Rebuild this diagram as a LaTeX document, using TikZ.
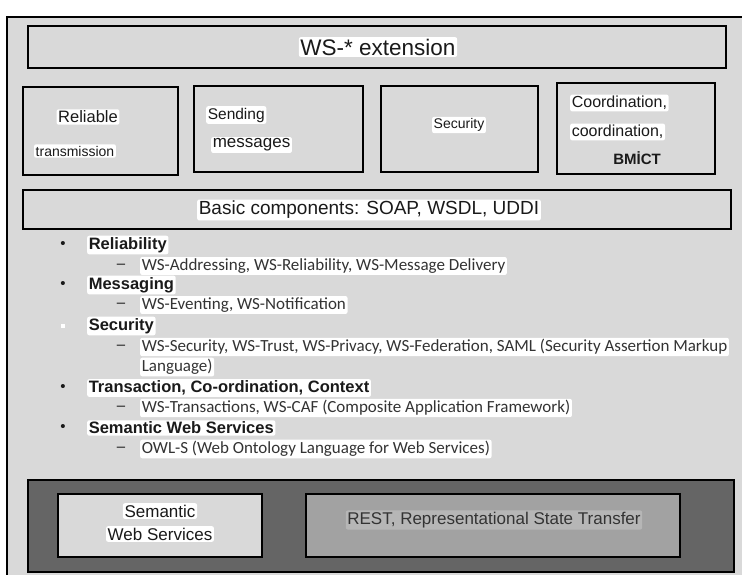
\documentclass[tikz,border=0pt]{standalone}
\usepackage{fontspec}
\setmainfont{Liberation Sans}
\newfontfamily\listfont{Carlito}
\usetikzlibrary{positioning}
\definecolor{panelgray}{HTML}{D9D9D9}
\definecolor{darkpanel}{HTML}{656565}
\definecolor{restgray}{HTML}{A2A2A2}
\definecolor{restlabel}{HTML}{B6B6B6}
\definecolor{inkgray}{HTML}{1A1A1A}

\tikzset{
  box/.style={draw=black, line width=2.3pt},
  hl/.style={fill=white, rounded corners=2pt, inner sep=1.6pt, text=inkgray},
  head/.style={hl, anchor=west, font=\fontsize{16.5}{19}\selectfont\bfseries},
  item/.style={hl, anchor=west, text=black!80, font=\listfont\fontsize{17}{20}\selectfont},
  bulletmark/.style={text=inkgray, font=\fontsize{15}{18}\selectfont}
}

\begin{document}
\begin{tikzpicture}[x=1pt, y=-1pt]
      \useasboundingbox (0,0) rectangle (742,574);
      % outer frame
      \fill[panelgray] (7,17) rectangle (760,590);
      \draw[line width=2pt] (7,590) -- (7,17) -- (760,17);

      % upper part
      \node[box, minimum width=698pt, minimum height=42pt] (wsext) at (377,47) {};
      \node[hl, font=\fontsize{22.5}{26}\selectfont] (wslabel) at (378,47) {WS-* extension};

      \node[box, minimum width=155pt, minimum height=88pt] (relbox) at (100.5,131) {};
      \node[hl, font=\fontsize{16.5}{19}\selectfont] (reliable) at (88,117) {Reliable};
      \node[hl, font=\fontsize{14}{17}\selectfont] (transm) at (75,151) {transmission};

      \node[box, minimum width=169pt, minimum height=86pt] (sendbox) at (278.5,129) {};
      \node[hl, anchor=west, font=\fontsize{15.5}{18}\selectfont] (sending) at (206,115) {Sending};
      \node[hl, anchor=west, font=\fontsize{17}{20}\selectfont] (messages) at (211,145) {messages};

      \node[box, minimum width=157pt, minimum height=86pt] (secbox) at (459.5,129) {};
      \node[hl, font=\fontsize{14}{17}\selectfont] (security) at (459,125) {Security};

      \node[box, minimum width=158pt, minimum height=91pt] (coordbox) at (636,128.5) {};
      \node[hl, anchor=west, font=\fontsize{16}{19}\selectfont] (coordA) at (570,103) {Coordination,};
      \node[hl, anchor=west, font=\fontsize{16}{19}\selectfont] (coordB) at (570,132) {coordination,};
      \node[text=inkgray, font=\fontsize{15}{18}\selectfont\bfseries] (bmict) at (637,158) {BMİCT};

      \node[box, minimum width=708pt, minimum height=39pt] (basic) at (377,209.5) {};
      \node[hl, font=\fontsize{19}{22}\selectfont] (basiclabel) at (369,210) {Basic components: SOAP, WSDL, UDDI};

      % list
      \node[bulletmark] (b1) at (63,245) {\textbullet};
      \node[head] (reliab) at (87,245) {Reliability};
      \node[bulletmark] (d1) at (121,266) {--};
      \node[item] (reliabitem) at (140,266) {WS-Addressing, WS-Reliability, WS-Message Delivery};

      \node[bulletmark] (b2) at (63,285) {\textbullet};
      \node[head] (messg) at (87,285) {Messaging};
      \node[bulletmark] (d2) at (121,305) {--};
      \node[item] (messgitem) at (140,305) {WS-Eventing, WS-Notification};

      \node[fill=white, minimum size=4pt, inner sep=0pt] (b3) at (63,326) {};
      \node[head] (secur) at (87,326) {Security};
      \node[bulletmark] (d3) at (121,347) {--};
      \node[item] (securitem) at (140,347) {WS-Security, WS-Trust, WS-Privacy, WS-Federation, SAML (Security Assertion Markup};
      \node[item] (securlang) at (140,367) {Language)};

      \node[bulletmark] (b4) at (63,388) {\textbullet};
      \node[head] (transact) at (87,388) {Transaction, Co-ordination, Context};
      \node[bulletmark] (d4) at (121,408) {--};
      \node[item] (transitem) at (140,408) {WS-Transactions, WS-CAF (Composite Application Framework)};

      \node[bulletmark] (b5) at (63,428) {\textbullet};
      \node[head] (semweb) at (87,428) {Semantic Web Services};
      \node[bulletmark] (d5) at (121,449) {--};
      \node[item] (semitem) at (140,449) {OWL-S (Web Ontology Language for Web Services)};

      % lower part
      \node[box, fill=darkpanel, minimum width=706pt, minimum height=92pt] (darkbox) at (381,526) {};
      \node[box, fill=panelgray, minimum width=204pt, minimum height=63pt] (sembox) at (160,525.5) {};
      \node[hl, font=\fontsize{17}{20}\selectfont] (semA) at (160,511) {Semantic};
      \node[hl, font=\fontsize{17}{20}\selectfont] (semB) at (160,534) {Web Services};
      \node[box, fill=restgray, minimum width=374pt, minimum height=63pt] (restbox) at (493,525.5) {};
      \node[hl, fill=restlabel, text=black!80, font=\fontsize{17}{20}\selectfont] (restlabel) at (494,520) {REST, Representational State Transfer};
    \end{tikzpicture}
\end{document}
